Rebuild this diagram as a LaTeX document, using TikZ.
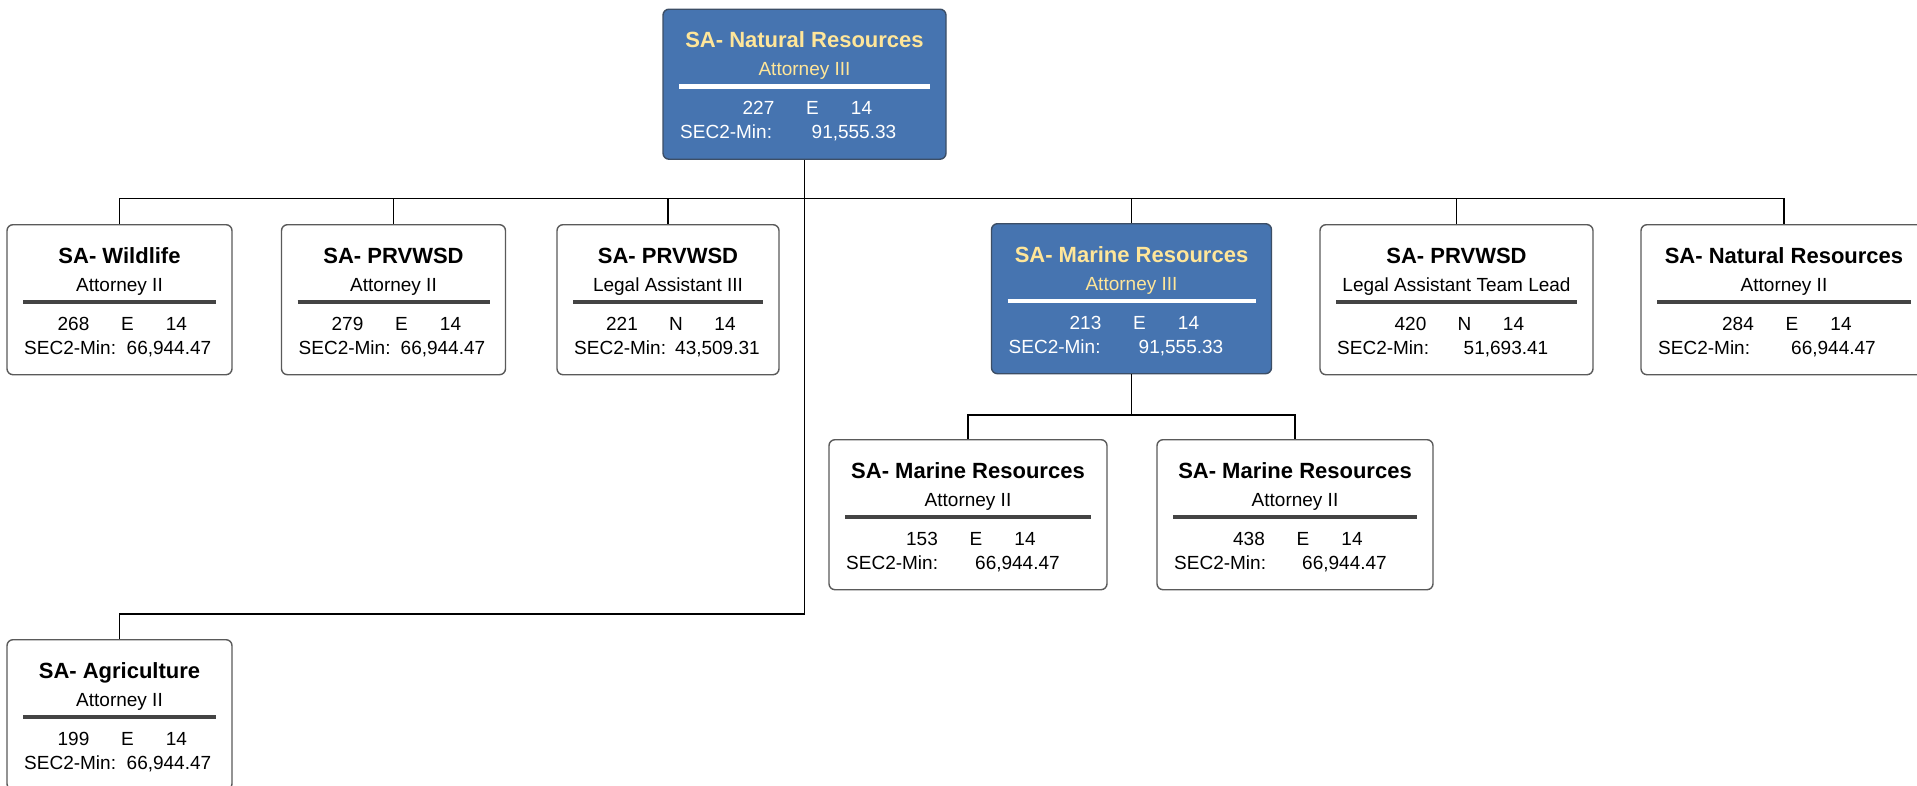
\documentclass[tikz,border=0pt]{standalone}
\usepackage{fontspec}
\setmainfont{Liberation Sans}
\definecolor{boxblue}{HTML}{4674B0}
\definecolor{blueedge}{HTML}{3C4E66}
\definecolor{titleyel}{HTML}{FFE699}
\definecolor{rulegray}{HTML}{444444}
\definecolor{edgegray}{HTML}{5A5A5A}
\tikzset{
  conn/.style={line width=1.6pt, draw=black},
  plainbox/.style={draw=edgegray, line width=1.4pt, fill=white, rounded corners=6pt, inner sep=0pt},
  bluebox/.style={draw=blueedge, line width=1.4pt, fill=boxblue, rounded corners=6pt, inner sep=0pt},
  plaintitle/.style={inner sep=0pt, font=\fontsize{22}{26}\selectfont\bfseries, text=black},
  bluetitle/.style={inner sep=0pt, font=\fontsize{22}{26}\selectfont\bfseries, text=titleyel},
  plainsub/.style={inner sep=0pt, font=\fontsize{19}{23}\selectfont, text=black},
  bluesub/.style={inner sep=0pt, font=\fontsize{19}{23}\selectfont, text=titleyel},
  plaintxt/.style={inner sep=0pt, font=\fontsize{19}{23}\selectfont, text=black},
  bluetxt/.style={inner sep=0pt, font=\fontsize{19}{23}\selectfont, text=white},
  plainrule/.style={line width=4.5pt, draw=rulegray},
  bluerule/.style={line width=4.5pt, draw=white},
}
% #1 name, #2 top-centre, #3 width, #4 kind, #5 title, #6 subtitle, #7 id, #8 class, #9 value
\newcommand{\orgbox}[9]{%
  \begin{scope}[shift={(#2)}]
    \node[#4box, minimum width=#3, minimum height=150, anchor=north] (#1) at (0,0) {};
    \node[#4title, anchor=base] (#1-t) at (0,39) {#5};
    \node[#4sub, anchor=base] (#1-s) at (0,67) {#6};
    \draw[#4rule] ({-#3/2+16},78) -- ({#3/2-16},78);
    \node[#4txt, anchor=base] (#1-id) at (-46,106) {#7};
    \node[#4txt, anchor=base] (#1-cl) at (8,106) {#8};
    \node[#4txt, anchor=base] (#1-gr) at (57,106) {14};
    \node[#4txt, anchor=base west] (#1-sl) at ({-#3/2+17},130) {SEC2-Min:};
    \node[#4txt, anchor=base west] (#1-sv) at (7,130) {#9};
  \end{scope}}
\begin{document}
\begin{tikzpicture}[x=1pt, y=-1pt]
  \useasboundingbox (0,0) rectangle (1917,785);
  \clip (0,0) rectangle (1917,785);
  \fill[white] (0,0) rectangle (1917,785);

  \coordinate (bus) at (0,198.5);
  \coordinate (agbus) at (0,614);
  \coordinate (mbus) at (0,415);

  % connectors (drawn first, boxes on top)
  \path (804.5,8.5) coordinate (nrtop);
  \orgbox{nr}{804.5,8.5}{283}{blue}{SA- Natural Resources}{Attorney III}{227}{E}{91,555.33}
  \orgbox{wl}{119.5,224}{225}{plain}{SA- Wildlife}{Attorney II}{268}{E}{66,944.47}
  \orgbox{pra}{393.5,224}{224}{plain}{SA- PRVWSD}{Attorney II}{279}{E}{66,944.47}
  \orgbox{prb}{668,224}{222}{plain}{SA- PRVWSD}{Legal Assistant III}{221}{N}{43,509.31}
  \orgbox{mr}{1131.5,223}{280}{blue}{SA- Marine Resources}{Attorney III}{213}{E}{91,555.33}
  \orgbox{prc}{1456.5,224}{273}{plain}{SA- PRVWSD}{Legal Assistant Team Lead}{420}{N}{51,693.41}
  \orgbox{nrb}{1784,224}{286}{plain}{SA- Natural Resources}{Attorney II}{284}{E}{66,944.47}
  \orgbox{mca}{968,439}{278}{plain}{SA- Marine Resources}{Attorney II}{153}{E}{66,944.47}
  \orgbox{mcb}{1295,439}{276}{plain}{SA- Marine Resources}{Attorney II}{438}{E}{66,944.47}
  \orgbox{ag}{119.5,639}{225}{plain}{SA- Agriculture}{Attorney II}{199}{E}{66,944.47}

  % tree connectors
  \draw[conn] (nr.south) -- (nr.south |- agbus) -- (ag.north |- agbus) -- (ag.north);
  \draw[conn] (wl.north) -- (wl.north |- bus) -- (nrb.north |- bus) -- (nrb.north);
  \draw[conn] (pra.north) -- (pra.north |- bus);
  \draw[conn] (prb.north) -- (prb.north |- bus);
  \draw[conn] (mr.north) -- (mr.north |- bus);
  \draw[conn] (prc.north) -- (prc.north |- bus);
  \draw[conn] (mr.south) -- (mr.south |- mbus);
  \draw[conn] (mca.north) -- (mca.north |- mbus) -- (mcb.north |- mbus) -- (mcb.north);
\end{tikzpicture}
\end{document}
